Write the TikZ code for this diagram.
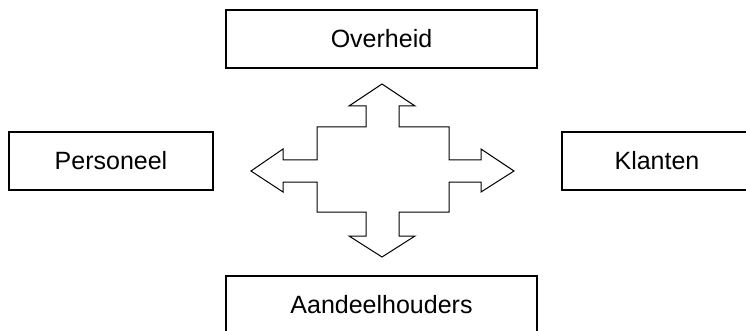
\documentclass[tikz,border=0pt]{standalone}
\usepackage{fontspec}
\setmainfont{Liberation Sans}
\begin{document}
\begin{tikzpicture}[x=1pt,y=-1pt,
  party/.style={draw=black, line width=1.1pt, fill=white, inner sep=0pt,
    minimum height=58pt, font=\fontsize{25}{29}\selectfont},
  cross/.style={draw=black, line width=1pt, fill=white, line join=miter}]
  \useasboundingbox (0,0) rectangle (746,331);
  \clip (0,0) rectangle (746,331);

  % stakeholder boxes
  \node[party, minimum width=311pt] (overheid) at (381.5,39) {Overheid};
  \node[party, minimum width=311pt] (aandeel) at (381.5,305) {Aandeelhouders};
  \node[party, minimum width=204pt] (personeel) at (111,161) {Personeel};
  \node[party, minimum width=190pt] (klanten) at (657,161) {Klanten};

  % four-way arrow in the middle
  \draw[cross]
    (382,84) -- (415,106) -- (399,106) -- (399,127) -- (449,127) -- (449,160)
    -- (481,160) -- (481,149) -- (514,171) -- (481,192) -- (481,182)
    -- (449,182) -- (449,212) -- (399,212) -- (399,236) -- (415,236)
    -- (382,257) -- (349,236) -- (366,236) -- (366,212) -- (317,212)
    -- (317,182) -- (283,182) -- (283,192) -- (251,171) -- (283,149)
    -- (283,160) -- (317,160) -- (317,127) -- (366,127) -- (366,106)
    -- (349,106) -- cycle;
\end{tikzpicture}
\end{document}
